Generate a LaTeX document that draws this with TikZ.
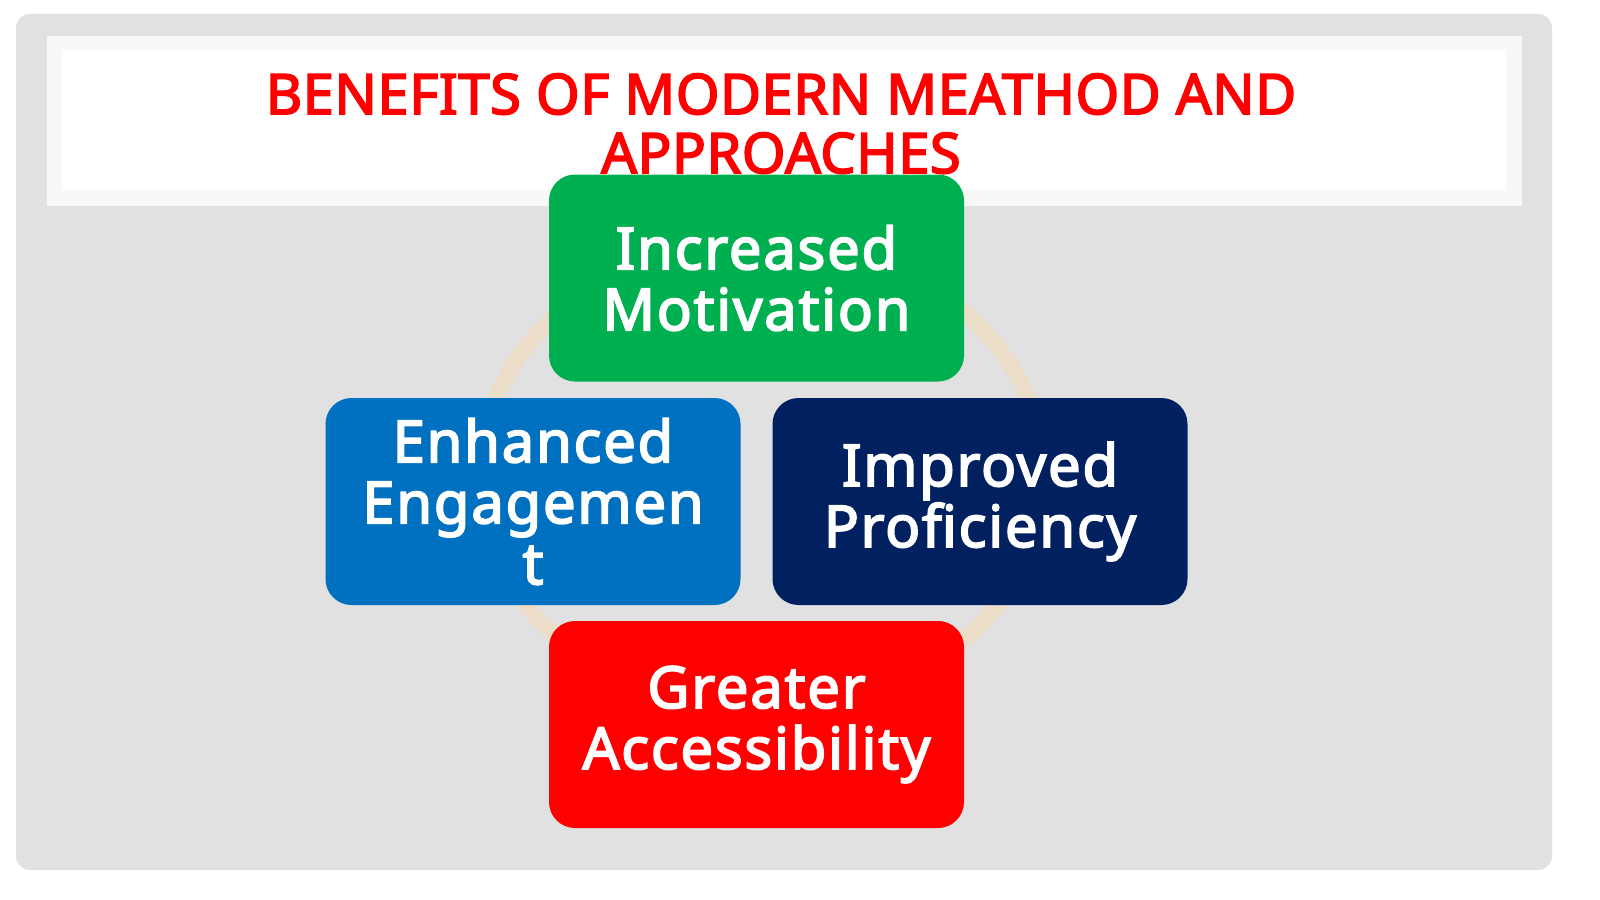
\documentclass[tikz,border=0pt]{standalone}
\usepackage{fontspec}
\setmainfont{Noto Sans}[BoldFont={Noto Sans}, BoldFeatures={FakeBold=3}]
\definecolor{framegrey}{HTML}{E1E1E1}
\definecolor{bandgrey}{HTML}{F8F8F8}
\definecolor{titlered}{HTML}{FF0000}
\definecolor{boxgreen}{HTML}{00B050}
\definecolor{boxblue}{HTML}{0070C0}
\definecolor{boxnavy}{HTML}{002060}
\definecolor{boxred}{HTML}{FF0000}
\definecolor{ringorange}{HTML}{EBDDC8}
\tikzset{
  benefit/.style={draw=none, rounded corners=26pt, minimum width=415pt, minimum height=207pt,
    text width=405pt, align=center, text=white,
    font=\fontsize{58}{61}\selectfont\bfseries\addfontfeatures{LetterSpace=3}, inner sep=0pt}
}
\begin{document}
\begin{tikzpicture}[x=1pt,y=-1pt]
\useasboundingbox (0,0) rectangle (1600,899);
\fill[white] (0,0) rectangle (1600,899);
\fill[framegrey, rounded corners=14pt] (16,14) rectangle (1552,870);
\fill[bandgrey] (47,36) rectangle (1522,206);
\fill[white] (62,50) rectangle (1506,190);
\draw[ringorange, line width=16pt] (762,476) ellipse [x radius=282, y radius=235];
\node[text=titlered, font=\fontsize{56}{59}\selectfont\bfseries\addfontfeatures{LetterSpace=1}, align=center, anchor=north] (title) at (781,70)
  {BENEFITS OF MODERN MEATHOD AND\\APPROACHES};
\node[benefit, fill=boxgreen] (mot) at (756.5,278) {Increased Motivation};
\node[benefit, fill=boxblue] (eng) at (533,501.5) {Enhanced\\Engagemen\\t};
\node[benefit, fill=boxnavy] (prof) at (980,501.5) {Improved Proficiency};
\node[benefit, fill=boxred] (acc) at (756.5,724.5) {Greater Accessibility};
\end{tikzpicture}
\end{document}
